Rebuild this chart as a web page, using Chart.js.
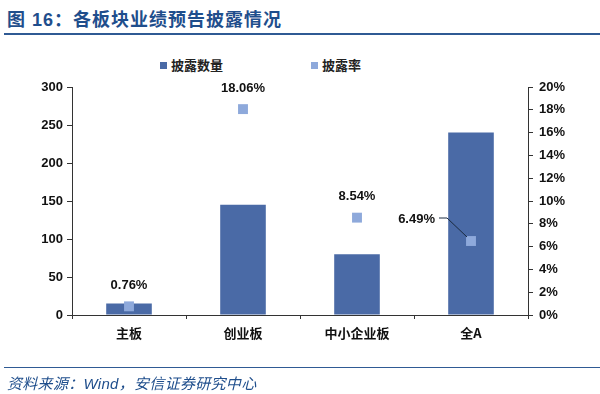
<!DOCTYPE html>
<html>
<head>
<meta charset="utf-8">
<script src="https://cdn.jsdelivr.net/npm/chart.js@4/dist/chart.umd.min.js"></script>
<style>
  body { margin: 0; background: #fff; width: 600px; height: 394px; overflow: hidden; position: relative; font-family: Arial, "Liberation Sans", "Noto Sans CJK SC", sans-serif; }
  #title { position: absolute; left: 7px; top: 5px; font-size: 18px; letter-spacing: 1px; font-weight: bold; color: #1f4e8c; font-family: Arial, "Noto Sans CJK SC", sans-serif; }
  #titleLine { position: absolute; left: 4px; right: 0; top: 33px; height: 2px; background: #2f5a94; }
  #footLine { position: absolute; left: 4px; right: 0; top: 367px; height: 1px; background: #2f5a94; }
  #source { position: absolute; left: 7px; top: 372px; font-size: 15px; letter-spacing: 0.3px; font-style: italic; color: #1f4e8c; }
  .legend { position: absolute; top: 55px; font-size: 13px; font-weight: bold; color: #222; font-family: "Noto Sans CJK SC", sans-serif; }
  .legend i { display: inline-block; width: 7px; height: 7px; margin-right: 4px; vertical-align: 1px; }
  #chart { position: absolute; left: 0; top: 0; }
</style>
</head>
<body>
<div id="title">图 16：各板块业绩预告披露情况</div>
<div id="titleLine"></div>
<div class="legend" style="left:160px"><i style="background:#4a6aa6"></i>披露数量</div>
<div class="legend" style="left:311px"><i style="background:#8ea9db"></i>披露率</div>
<canvas id="chart" width="600" height="394"></canvas>
<div id="footLine"></div>
<div id="source">资料来源：Wind，安信证券研究中心</div>
<script>
const categories = ['主板', '创业板', '中小企业板', '全A'];
const disclosedCount = [15, 145, 80, 240];
const disclosedRate = [0.76, 18.06, 8.54, 6.49];

const leftTicks = [0, 50, 100, 150, 200, 250, 300];
const rightTicks = [0, 2, 4, 6, 8, 10, 12, 14, 16, 18, 20];

const barColor = '#4a6aa6';
const markerColor = '#8ea9db';

// 点上方的百分比标签，全A 那个放左边并带引线
const rateLabels = {
    id: 'rateLabels',
    afterDatasetsDraw(chart) {
        const ctx = chart.ctx;
        const meta = chart.getDatasetMeta(1);
        ctx.save();
        ctx.font = 'bold 13px Arial';
        ctx.fillStyle = '#111';
        ctx.textBaseline = 'middle';
        meta.data.forEach((pt, i) => {
            const text = disclosedRate[i].toFixed(2) + '%';
            if (i === 3) {
                ctx.textAlign = 'right';
                ctx.fillText(text, pt.x - 36, pt.y - 22);
                ctx.strokeStyle = '#1a2a40';
                ctx.lineWidth = 1;
                ctx.beginPath();
                ctx.moveTo(pt.x - 32, pt.y - 23);
                ctx.lineTo(pt.x - 24, pt.y - 23);
                ctx.lineTo(pt.x - 4, pt.y - 4);
                ctx.stroke();
            } else {
                ctx.textAlign = 'center';
                ctx.fillText(text, pt.x, pt.y - 21);
            }
        });
        ctx.restore();
    }
};

new Chart(document.getElementById('chart').getContext('2d'), {
    type: 'bar',
    data: {
        labels: categories,
        datasets: [{
            label: '披露数量',
            data: disclosedCount,
            backgroundColor: barColor,
            yAxisID: 'y',
            barPercentage: 0.4,
            categoryPercentage: 1.0,
            order: 2
        }, {
            type: 'line',
            label: '披露率',
            data: disclosedRate,
            yAxisID: 'y1',
            showLine: false,
            pointStyle: 'rect',
            pointRadius: 7,
            pointBorderWidth: 0,
            pointBackgroundColor: markerColor,
            pointBorderColor: markerColor,
            order: 1
        }]
    },
    options: {
        responsive: false,
        animation: false,
        layout: { padding: { top: 87, bottom: 49, left: 0, right: 0 } },
        plugins: { legend: { display: false }, tooltip: { enabled: false } },
        scales: {
            x: {
                offset: true,
                grid: { offset: true, drawOnChartArea: false, tickLength: 4, color: '#333' },
                border: { color: '#333' },
                ticks: { color: '#111', padding: 6, font: { size: 13, weight: 'bold', family: '"Noto Sans CJK SC", sans-serif' } },
                afterFit(s) { s.height = 30; }
            },
            y: {
                position: 'left',
                min: 0,
                max: 300,
                afterBuildTicks(s) { s.ticks = leftTicks.map(v => ({ value: v })); },
                grid: { drawOnChartArea: false, tickLength: 5, color: '#333' },
                border: { color: '#333' },
                ticks: { color: '#111', padding: 4, font: { size: 13, weight: 'bold', family: 'Arial' } },
                afterFit(s) { s.width = 72; }
            },
            y1: {
                position: 'right',
                min: 0,
                max: 20,
                afterBuildTicks(s) { s.ticks = rightTicks.map(v => ({ value: v })); },
                grid: { drawOnChartArea: false, tickLength: 5, color: '#333' },
                border: { color: '#333' },
                ticks: { color: '#111', padding: 6, callback: v => v + '%', font: { size: 13, weight: 'bold', family: 'Arial' } },
                afterFit(s) { s.width = 72; }
            }
        }
    },
    plugins: [rateLabels]
});
</script>
</body>
</html>
